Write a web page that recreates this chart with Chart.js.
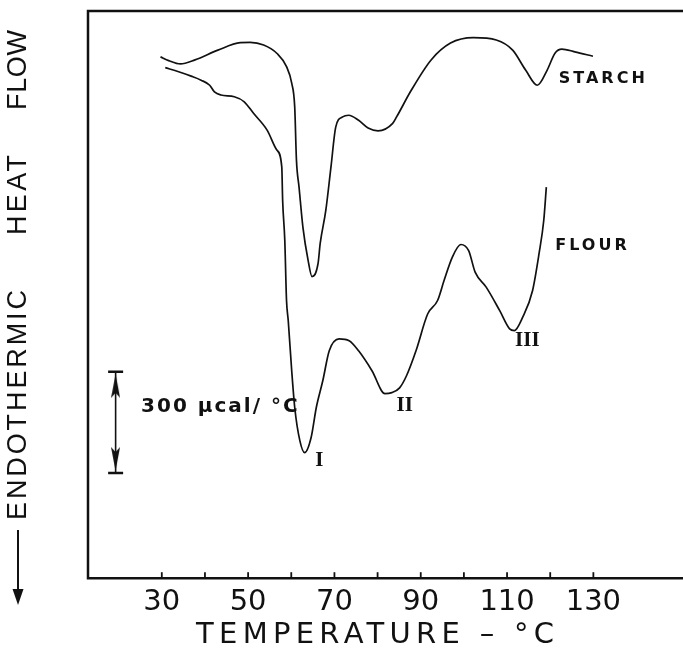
<!DOCTYPE html>
<html>
<head>
<meta charset="utf-8">
<script src="https://cdn.jsdelivr.net/npm/chart.js@4.4.1/dist/chart.umd.min.js"></script>
<style>
  body { margin: 0; background: #fff; }
  #wrap { width: 683px; height: 651px; position: relative; }
</style>
</head>
<body>
<div id="wrap"><canvas id="dsc"></canvas></div>
<script>
// temperatures in degrees C, heat flow in microcal/degC
var starchTemp = [29.7, 31.6, 34.3, 37.7, 43.0, 48.2, 50.5, 53.6, 56.7, 58.9, 60.1, 60.8, 61.2, 61.8, 62.7, 63.9, 64.8,
                  66.2, 66.7, 68.0, 69.2, 70.3, 71.9, 73.3, 75.6, 77.8, 80.1, 83.5, 84.4, 87.8, 92.4, 96.9, 102.2,
                  107.5, 111.3, 114.3, 117.0, 119.3, 121.1, 122.7, 125.7, 129.9];
var starchFlow = [1545, 1534, 1524, 1536, 1565, 1587, 1588, 1580, 1555, 1516, 1467, 1396, 1239, 1159, 1040, 942, 894,
                  932, 992, 1090, 1219, 1337, 1367, 1372, 1357, 1334, 1326, 1348, 1367, 1446, 1536, 1586, 1602,
                  1595, 1565, 1506, 1461, 1506, 1556, 1568, 1560, 1547];

var flourTemp = [30.8, 33.9, 36.8, 39.1, 41.1, 42.2, 43.7, 46.8, 49.1, 51.3, 54.4, 56.7, 57.8, 58.0, 58.5, 58.9, 59.3,
                 60.1, 60.8, 62.0, 63.1, 64.6, 65.8, 67.3, 68.8, 71.1, 73.4, 75.6, 78.7, 81.7, 83.3, 85.1, 86.7,
                 88.9, 91.6, 93.9, 95.4, 97.3, 99.3, 101.1, 102.6, 105.2, 108.3, 110.6, 111.7, 113.6, 115.9, 117.4,
                 118.5, 119.1];
var flourFlow = [1513, 1501, 1488, 1476, 1461, 1441, 1432, 1427, 1412, 1377, 1328, 1268, 1219, 1120, 1001, 823, 763,
                 615, 506, 407, 372, 417, 506, 585, 674, 709, 704, 674, 615, 547, 550, 564, 600,
                 674, 783, 823, 882, 951, 989, 971, 907, 862, 793, 739, 734, 773, 852, 961,
                 1060, 1159];

var tickTemps = [30, 40, 50, 60, 70, 80, 90, 100, 110, 120, 130];
var tickLabels = ['30', '', '50', '', '70', '', '90', '', '110', '', '130'];

// 300 microcal/degC scale bar
var scaleBarTemp = 19.3;
var scaleBarFlow = [312, 612];
var arrowFlow = [353, 570];

var noteText = ['STARCH', 'FLOUR', 'I', 'II', 'III', '300 \u00b5cal/ \u00b0C'];
var noteTemp = [132.3, 129.8, 66.5, 86.3, 114.7, 25.2];
var noteFlow = [1479, 986, 348, 511, 704, 509];

var INK = '#111';

// narrow arrow head used as point style
var arrowHead = document.createElement('canvas');
arrowHead.width = 9;
arrowHead.height = 24;
(function () {
  var c = arrowHead.getContext('2d');
  c.fillStyle = INK;
  c.beginPath();
  c.moveTo(4.5, 0);
  c.lineTo(9, 24);
  c.lineTo(4.5, 19);
  c.lineTo(0, 24);
  c.closePath();
  c.fill();
})();

function spacedText(ctx, text, x, y, width) {
  ctx.letterSpacing = '0px';
  var w0 = ctx.measureText(text).width;
  var sp = text.length > 1 ? (width - w0) / (text.length - 1) : 0;
  ctx.letterSpacing = sp + 'px';
  ctx.fillText(text, x, y);
  ctx.letterSpacing = '0px';
}

var framePlugin = {
  id: 'frame',
  afterDraw: function (chart) {
    var ctx = chart.ctx, a = chart.chartArea, xs = chart.scales.x;
    ctx.save();
    ctx.strokeStyle = INK;
    ctx.lineWidth = 2.5;
    ctx.beginPath();
    ctx.moveTo(chart.width, a.top);
    ctx.lineTo(a.left, a.top);
    ctx.lineTo(a.left, a.bottom);
    ctx.lineTo(chart.width, a.bottom);
    ctx.stroke();
    // inward tick marks
    ctx.lineWidth = 1.8;
    tickTemps.forEach(function (t) {
      var px = xs.getPixelForValue(t);
      ctx.beginPath();
      ctx.moveTo(px, a.bottom);
      ctx.lineTo(px, a.bottom - 6);
      ctx.stroke();
    });

    // axis titles
    ctx.fillStyle = INK;
    ctx.textBaseline = 'middle';
    ctx.textAlign = 'left';
    ctx.font = '29px "DejaVu Sans"';
    spacedText(ctx, 'TEMPERATURE \u2013 \u00b0C', 196, 635, 358);

    ctx.translate(18, 605);
    ctx.rotate(-Math.PI / 2);
    ctx.font = '27px "Liberation Sans"';
    // arrow pointing down the axis
    ctx.lineWidth = 2;
    ctx.beginPath();
    ctx.moveTo(10, 0);
    ctx.lineTo(75, 0);
    ctx.stroke();
    ctx.beginPath();
    ctx.moveTo(0, 0);
    ctx.lineTo(16, -5.5);
    ctx.lineTo(16, 5.5);
    ctx.closePath();
    ctx.fill();
    spacedText(ctx, 'ENDOTHERMIC', 85, 1, 230);
    spacedText(ctx, 'HEAT', 370, 1, 80);
    spacedText(ctx, 'FLOW', 495, 1, 80);
    ctx.restore();
  }
};

var notesPlugin = {
  id: 'notes',
  afterDatasetsDraw: function (chart) {
    var ctx = chart.ctx, xs = chart.scales.x, ys = chart.scales.y;
    ctx.save();
    ctx.fillStyle = INK;
    ctx.textBaseline = 'middle';
    noteText.forEach(function (t, i) {
      var px = xs.getPixelForValue(noteTemp[i]);
      var py = ys.getPixelForValue(noteFlow[i]);
      if (t === 'STARCH' || t === 'FLOUR') {
        ctx.font = 'bold 16px "DejaVu Sans"';
        ctx.textAlign = 'center';
        ctx.letterSpacing = '3px';
        ctx.fillText(t, px, py);
      } else if (t.indexOf('300') === 0) {
        ctx.font = 'bold 20px "DejaVu Sans"';
        ctx.textAlign = 'left';
        ctx.letterSpacing = '2px';
        ctx.fillText(t, px, py);
      } else {
        ctx.font = 'bold 21px "Liberation Serif"';
        ctx.textAlign = 'center';
        ctx.letterSpacing = '0px';
        ctx.fillText(t, px, py);
      }
    });
    ctx.letterSpacing = '0px';
    ctx.restore();
  }
};

function pairs(xs, ys) {
  return xs.map(function (x, i) { return { x: x, y: ys[i] }; });
}

var ctx = document.getElementById('dsc').getContext('2d');
var chart = new Chart(ctx, {
  type: 'line',
  data: {
    datasets: [{
      label: 'STARCH',
      data: pairs(starchTemp, starchFlow),
      borderColor: INK,
      borderWidth: 1.7,
      pointRadius: 0,
      cubicInterpolationMode: 'monotone',
      fill: false
    }, {
      label: 'FLOUR',
      data: pairs(flourTemp, flourFlow),
      borderColor: INK,
      borderWidth: 1.7,
      pointRadius: 0,
      cubicInterpolationMode: 'monotone',
      fill: false
    }, {
      label: 'scale',
      data: scaleBarFlow.map(function (v) { return { x: scaleBarTemp, y: v }; }),
      borderColor: INK,
      borderWidth: 1.6,
      pointStyle: 'line',
      pointRadius: 7.5,
      pointBorderWidth: 2.5,
      pointBorderColor: INK
    }, {
      label: 'arrows',
      data: arrowFlow.map(function (v) { return { x: scaleBarTemp, y: v }; }),
      showLine: false,
      pointStyle: arrowHead,
      pointRadius: 6,
      pointRotation: [180, 0]
    }]
  },
  options: {
    animation: false,
    responsive: true,
    maintainAspectRatio: false,
    layout: { padding: { left: 88, right: 0, top: 11, bottom: 24 } },
    plugins: { legend: { display: false }, tooltip: { enabled: false } },
    scales: {
      x: {
        type: 'linear',
        min: 12.9,
        max: 148.45,
        grid: { display: false, drawTicks: false },
        border: { display: false },
        afterBuildTicks: function (scale) {
          scale.ticks = tickTemps.map(function (v) { return { value: v }; });
        },
        ticks: {
          autoSkip: false,
          maxRotation: 0,
          padding: 7,
          color: INK,
          font: { family: 'DejaVu Sans', size: 29 },
          callback: function (value, index) { return tickLabels[index]; }
        }
      },
      y: { display: false, min: 0, max: 1681 }
    }
  },
  plugins: [framePlugin, notesPlugin]
});
</script>
</body>
</html>
